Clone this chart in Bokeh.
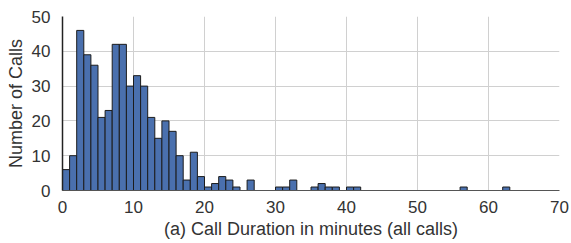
from bokeh.plotting import figure
from bokeh.embed import file_html
from bokeh.resources import INLINE
from bokeh.models import FixedTicker

# Histogram: counts per 1-minute bin, bins 0..64
bin_starts = list(range(65))
counts = [6, 10, 46, 39, 36, 21, 23, 42, 42, 30,
          33, 30, 21, 15, 20, 17, 10, 3, 11, 4,
          1, 2, 4, 3, 1, 0, 3, 0, 0, 0,
          1, 1, 3, 0, 0, 1, 2, 1, 1, 0,
          1, 1, 0, 0, 0, 0, 0, 0, 0, 0,
          0, 0, 0, 0, 0, 0, 1, 0, 0, 0,
          0, 0, 1, 0, 0]
x_ticks = [0, 10, 20, 30, 40, 50, 60, 70]
y_ticks = [0, 10, 20, 30, 40, 50]

FONT = "Liberation Sans"
TXT = "#333333"

p = figure(width=571, height=243, x_range=(0, 70), y_range=(0, 50),
           output_backend="svg", toolbar_location=None,
           min_border_left=62, min_border_right=12, min_border_top=16, min_border_bottom=53)

p.quad(left=bin_starts, right=[b + 1 for b in bin_starts], bottom=0, top=counts,
       fill_color="#4a70ae", line_color="#1c1c1c", line_width=1)

p.outline_line_color = None
p.background_fill_color = "white"

for ax in (p.xaxis, p.yaxis):
    ax.major_tick_line_color = None
    ax.minor_tick_line_color = None
    ax.major_label_text_font = FONT
    ax.major_label_text_font_size = "17px"
    ax.major_label_text_color = TXT
    ax.axis_label_text_font = FONT
    ax.axis_label_text_font_size = "18px"
    ax.axis_label_text_font_style = "normal"
    ax.axis_label_text_color = TXT

p.xaxis.ticker = FixedTicker(ticks=x_ticks)
p.yaxis.ticker = FixedTicker(ticks=y_ticks)
p.xaxis.axis_label = "(a) Call Duration in minutes (all calls)"
p.yaxis.axis_label = "Number of Calls"
p.xaxis.axis_line_color = "#555555"
p.yaxis.axis_line_color = "#222222"
p.yaxis.axis_line_width = 1.5
p.xaxis.major_label_standoff = 4
p.yaxis.major_label_standoff = 6
p.xaxis.axis_label_standoff = 3
p.yaxis.axis_label_standoff = 3

p.xgrid.grid_line_color = "#d0d0d0"
p.ygrid.grid_line_color = "#d0d0d0"
p.xgrid.grid_line_width = 1
p.ygrid.grid_line_width = 1

open("out.html", "w").write(file_html(p, INLINE))
